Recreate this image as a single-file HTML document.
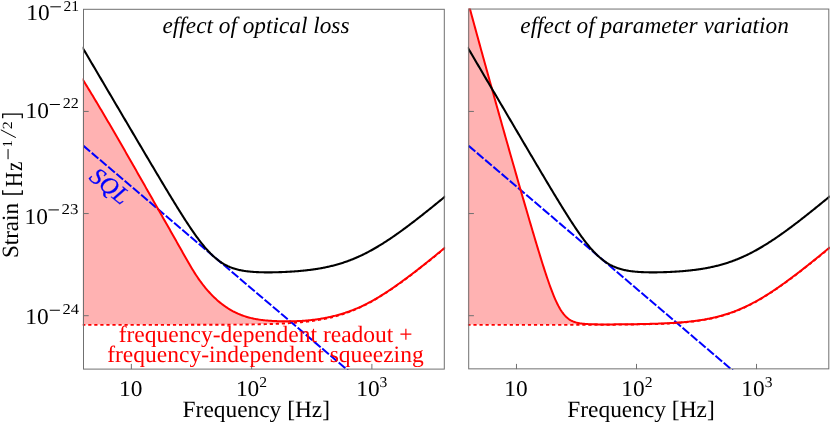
<!DOCTYPE html>
<html><head><meta charset="utf-8"><style>
html,body{margin:0;padding:0;background:#fff;}
svg{display:block;font-family:"Liberation Serif",serif;will-change:transform;text-rendering:geometricPrecision;}
</style></head><body>
<svg width="832" height="422" viewBox="0 0 832 422">
<rect width="832" height="422" fill="#fff"/>
<defs>
<clipPath id="c1"><rect x="82.7" y="8.5" width="362.40000000000003" height="361.40000000000003"/></clipPath>
<clipPath id="c2"><rect x="467.9" y="8.5" width="361.7" height="361.40000000000003"/></clipPath>
</defs>
<g clip-path="url(#c1)">
<path d="M82.18,78.58 L83.04,79.98 L83.91,81.38 L84.78,82.79 L85.65,84.20 L86.51,85.62 L87.38,87.03 L88.25,88.45 L89.12,89.88 L89.98,91.30 L90.85,92.73 L91.72,94.17 L92.59,95.60 L93.45,97.04 L94.32,98.48 L95.19,99.92 L96.05,101.37 L96.92,102.82 L97.79,104.27 L98.66,105.73 L99.52,107.18 L100.39,108.64 L101.26,110.11 L102.13,111.57 L102.99,113.04 L103.86,114.51 L104.73,115.98 L105.60,117.45 L106.46,118.93 L107.33,120.41 L108.20,121.89 L109.06,123.37 L109.93,124.85 L110.80,126.34 L111.67,127.83 L112.53,129.32 L113.40,130.81 L114.27,132.31 L115.14,133.80 L116.00,135.30 L116.87,136.80 L117.74,138.30 L118.61,139.80 L119.47,141.30 L120.34,142.81 L121.21,144.31 L122.07,145.82 L122.94,147.33 L123.81,148.84 L124.68,150.35 L125.54,151.87 L126.41,153.38 L127.28,154.89 L128.15,156.41 L129.01,157.93 L129.88,159.44 L130.75,160.96 L131.62,162.48 L132.48,164.00 L133.35,165.52 L134.22,167.05 L135.08,168.57 L135.95,170.09 L136.82,171.62 L137.69,173.14 L138.55,174.67 L139.42,176.19 L140.29,177.72 L141.16,179.24 L142.02,180.77 L142.89,182.30 L143.76,183.82 L144.63,185.35 L145.49,186.88 L146.36,188.40 L147.23,189.93 L148.09,191.46 L148.96,192.99 L149.83,194.51 L150.70,196.04 L151.56,197.57 L152.43,199.09 L153.30,200.62 L154.17,202.14 L155.03,203.67 L155.90,205.20 L156.77,206.72 L157.64,208.25 L158.50,209.77 L159.37,211.30 L160.24,212.82 L161.10,214.35 L161.97,215.87 L162.84,217.40 L163.71,218.92 L164.57,220.45 L165.44,221.97 L166.31,223.50 L167.18,225.03 L168.04,226.56 L168.91,228.08 L169.78,229.61 L170.65,231.14 L171.51,232.67 L172.38,234.20 L173.25,235.73 L174.11,237.26 L174.98,238.80 L175.85,240.33 L176.72,241.87 L177.58,243.40 L178.45,244.94 L179.32,246.48 L180.19,248.01 L181.05,249.55 L181.92,251.09 L182.79,252.64 L183.66,254.18 L184.52,255.72 L185.39,257.25 L186.26,258.78 L187.12,260.30 L187.99,261.81 L188.86,263.31 L189.73,264.79 L190.59,266.27 L191.46,267.72 L192.33,269.16 L193.20,270.58 L194.06,271.97 L194.93,273.35 L195.80,274.70 L196.67,276.02 L197.53,277.31 L198.40,278.58 L199.27,279.82 L200.13,281.03 L201.00,282.21 L201.87,283.37 L202.74,284.51 L203.60,285.62 L204.47,286.70 L205.34,287.77 L206.21,288.81 L207.07,289.82 L207.94,290.82 L208.81,291.79 L209.68,292.75 L210.54,293.68 L211.41,294.59 L212.28,295.48 L213.14,296.35 L214.01,297.20 L214.88,298.03 L215.75,298.84 L216.61,299.63 L217.48,300.40 L218.35,301.16 L219.22,301.89 L220.08,302.61 L220.95,303.30 L221.82,303.98 L222.69,304.65 L223.55,305.29 L224.42,305.92 L225.29,306.53 L226.15,307.12 L227.02,307.70 L227.89,308.26 L228.76,308.80 L229.62,309.33 L230.49,309.84 L231.36,310.34 L232.23,310.82 L233.09,311.29 L233.96,311.74 L234.83,312.18 L235.70,312.61 L236.56,313.02 L237.43,313.42 L238.30,313.80 L239.16,314.17 L240.03,314.53 L240.90,314.87 L241.77,315.21 L242.63,315.53 L243.50,315.84 L244.37,316.13 L245.24,316.42 L246.10,316.69 L246.97,316.96 L247.84,317.21 L248.71,317.45 L249.57,317.68 L250.44,317.90 L251.31,318.12 L252.17,318.32 L253.04,318.51 L253.91,318.70 L254.78,318.87 L255.64,319.04 L256.51,319.20 L257.38,319.35 L258.25,319.49 L259.11,319.63 L259.98,319.75 L260.85,319.87 L261.72,319.99 L262.58,320.10 L263.45,320.20 L264.32,320.29 L265.18,320.38 L266.05,320.46 L266.92,320.54 L267.79,320.61 L268.65,320.68 L269.52,320.74 L270.39,320.80 L271.26,320.86 L272.12,320.91 L272.99,320.95 L273.86,321.00 L274.73,321.04 L275.59,321.07 L276.46,321.11 L277.33,321.14 L278.19,321.17 L279.06,321.19 L279.93,321.22 L280.80,321.24 L281.66,321.26 L282.53,321.27 L283.40,321.29 L284.27,321.30 L285.13,321.31 L286.00,321.31 L286.87,321.31 L287.74,321.31 L288.60,321.31 L289.47,321.30 L290.34,321.29 L291.20,321.28 L292.07,321.27 L292.94,321.25 L293.81,321.23 L294.67,321.20 L295.54,321.17 L296.41,321.14 L297.28,321.11 L298.14,321.07 L299.01,321.03 L299.88,320.98 L300.75,320.93 L301.61,320.88 L302.48,320.82 L303.35,320.76 L304.21,320.70 L305.08,320.63 L305.95,320.56 L306.82,320.49 L307.68,320.41 L308.55,320.33 L309.42,320.24 L310.29,320.15 L311.15,320.06 L312.02,319.96 L312.89,319.86 L313.76,319.75 L314.62,319.64 L315.49,319.53 L316.36,319.41 L317.22,319.29 L318.09,319.16 L318.96,319.03 L319.83,318.89 L320.69,318.75 L321.56,318.61 L322.43,318.46 L323.30,318.30 L324.16,318.15 L325.03,317.98 L325.90,317.81 L326.77,317.64 L327.63,317.46 L328.50,317.28 L329.37,317.10 L330.23,316.90 L331.10,316.71 L331.97,316.50 L332.84,316.30 L333.70,316.09 L334.57,315.87 L335.44,315.65 L336.31,315.42 L337.17,315.19 L338.04,314.95 L338.91,314.71 L339.78,314.46 L340.64,314.21 L341.51,313.95 L342.38,313.68 L343.24,313.41 L344.11,313.14 L344.98,312.86 L345.85,312.57 L346.71,312.28 L347.58,311.98 L348.45,311.68 L349.32,311.37 L350.18,311.05 L351.05,310.73 L351.92,310.40 L352.79,310.07 L353.65,309.73 L354.52,309.39 L355.39,309.03 L356.25,308.68 L357.12,308.31 L357.99,307.95 L358.86,307.57 L359.72,307.19 L360.59,306.80 L361.46,306.41 L362.33,306.00 L363.19,305.58 L364.06,305.16 L364.93,304.72 L365.80,304.28 L366.66,303.84 L367.53,303.39 L368.40,302.93 L369.26,302.47 L370.13,302.01 L371.00,301.53 L371.87,301.05 L372.73,300.57 L373.60,300.08 L374.47,299.59 L375.34,299.08 L376.20,298.58 L377.07,298.07 L377.94,297.55 L378.81,297.03 L379.67,296.50 L380.54,295.97 L381.41,295.44 L382.27,294.90 L383.14,294.35 L384.01,293.80 L384.88,293.25 L385.74,292.69 L386.61,292.12 L387.48,291.55 L388.35,290.98 L389.21,290.41 L390.08,289.83 L390.95,289.24 L391.82,288.65 L392.68,288.06 L393.55,287.46 L394.42,286.86 L395.28,286.26 L396.15,285.65 L397.02,285.04 L397.89,284.43 L398.75,283.81 L399.62,283.19 L400.49,282.56 L401.36,281.94 L402.22,281.31 L403.09,280.67 L403.96,280.04 L404.83,279.40 L405.69,278.76 L406.56,278.11 L407.43,277.46 L408.29,276.81 L409.16,276.16 L410.03,275.51 L410.90,274.85 L411.76,274.19 L412.63,273.53 L413.50,272.87 L414.37,272.20 L415.23,271.53 L416.10,270.86 L416.97,270.19 L417.84,269.51 L418.70,268.84 L419.57,268.16 L420.44,267.48 L421.30,266.80 L422.17,266.12 L423.04,265.43 L423.91,264.75 L424.77,264.06 L425.64,263.37 L426.51,262.68 L427.38,261.99 L428.24,261.29 L429.11,260.60 L429.98,259.90 L430.85,259.21 L431.71,258.51 L432.58,257.81 L433.45,257.11 L434.31,256.41 L435.18,255.70 L436.05,255.00 L436.92,254.29 L437.78,253.59 L438.65,252.88 L439.52,252.17 L440.39,251.46 L441.25,250.75 L442.12,250.04 L442.99,249.33 L443.86,248.62 L444.72,247.91 L445.59,247.19 L445.59,247.19 L444.72,247.91 L443.86,248.62 L442.99,249.33 L442.12,250.04 L441.25,250.75 L440.39,251.46 L439.52,252.17 L438.65,252.88 L437.78,253.59 L436.92,254.29 L436.05,255.00 L435.18,255.70 L434.31,256.41 L433.45,257.11 L432.58,257.81 L431.71,258.51 L430.85,259.21 L429.98,259.90 L429.11,260.60 L428.24,261.29 L427.38,261.99 L426.51,262.68 L425.64,263.37 L424.77,264.06 L423.91,264.75 L423.04,265.43 L422.17,266.12 L421.30,266.80 L420.44,267.48 L419.57,268.16 L418.70,268.84 L417.84,269.51 L416.97,270.19 L416.10,270.86 L415.23,271.53 L414.37,272.20 L413.50,272.87 L412.63,273.53 L411.76,274.19 L410.90,274.85 L410.03,275.51 L409.16,276.16 L408.29,276.81 L407.43,277.46 L406.56,278.11 L405.69,278.76 L404.83,279.40 L403.96,280.04 L403.09,280.67 L402.22,281.31 L401.36,281.94 L400.49,282.56 L399.62,283.19 L398.75,283.81 L397.89,284.43 L397.02,285.04 L396.15,285.65 L395.28,286.26 L394.42,286.86 L393.55,287.46 L392.68,288.06 L391.82,288.65 L390.95,289.24 L390.08,289.83 L389.21,290.41 L388.35,290.98 L387.48,291.55 L386.61,292.12 L385.74,292.69 L384.88,293.25 L384.01,293.80 L383.14,294.35 L382.27,294.90 L381.41,295.44 L380.54,295.97 L379.67,296.50 L378.81,297.03 L377.94,297.55 L377.07,298.07 L376.20,298.58 L375.34,299.08 L374.47,299.59 L373.60,300.08 L372.73,300.57 L371.87,301.05 L371.00,301.53 L370.13,302.01 L369.26,302.47 L368.40,302.93 L367.53,303.39 L366.66,303.84 L365.80,304.28 L364.93,304.72 L364.06,305.16 L363.19,305.58 L362.33,306.00 L361.46,306.42 L360.59,306.83 L359.72,307.23 L358.86,307.62 L357.99,308.01 L357.12,308.40 L356.25,308.78 L355.39,309.15 L354.52,309.51 L353.65,309.87 L352.79,310.23 L351.92,310.58 L351.05,310.92 L350.18,311.25 L349.32,311.58 L348.45,311.91 L347.58,312.22 L346.71,312.53 L345.85,312.84 L344.98,313.14 L344.11,313.43 L343.24,313.72 L342.38,314.00 L341.51,314.28 L340.64,314.55 L339.78,314.81 L338.91,315.07 L338.04,315.33 L337.17,315.57 L336.31,315.82 L335.44,316.05 L334.57,316.29 L333.70,316.51 L332.84,316.73 L331.97,316.95 L331.10,317.16 L330.23,317.37 L329.37,317.57 L328.50,317.77 L327.63,317.96 L326.77,318.15 L325.90,318.33 L325.03,318.51 L324.16,318.68 L323.30,318.85 L322.43,319.02 L321.56,319.18 L320.69,319.33 L319.83,319.49 L318.96,319.63 L318.09,319.78 L317.22,319.92 L316.36,320.06 L315.49,320.19 L314.62,320.32 L313.76,320.45 L312.89,320.57 L312.02,320.69 L311.15,320.81 L310.29,320.92 L309.42,321.03 L308.55,321.14 L307.68,321.24 L306.82,321.34 L305.95,321.44 L305.08,321.53 L304.21,321.63 L303.35,321.72 L302.48,321.80 L301.61,321.89 L300.75,321.97 L299.88,322.05 L299.01,322.13 L298.14,322.20 L297.28,322.28 L296.41,322.35 L295.54,322.42 L294.67,322.48 L293.81,322.55 L292.94,322.61 L292.07,322.67 L291.20,322.73 L290.34,322.79 L289.47,322.85 L288.60,322.90 L287.74,322.95 L286.87,323.00 L286.00,323.05 L285.13,323.10 L284.27,323.15 L283.40,323.19 L282.53,323.23 L281.66,323.28 L280.80,323.32 L279.93,323.36 L279.06,323.39 L278.19,323.43 L277.33,323.47 L276.46,323.50 L275.59,323.54 L274.73,323.57 L273.86,323.60 L272.99,323.63 L272.12,323.66 L271.26,323.69 L270.39,323.72 L269.52,323.75 L268.65,323.77 L267.79,323.80 L266.92,323.82 L266.05,323.84 L265.18,323.87 L264.32,323.89 L263.45,323.91 L262.58,323.93 L261.72,323.95 L260.85,323.97 L259.98,323.99 L259.11,324.01 L258.25,324.03 L257.38,324.04 L256.51,324.06 L255.64,324.08 L254.78,324.09 L253.91,324.11 L253.04,324.12 L252.17,324.14 L251.31,324.15 L250.44,324.16 L249.57,324.18 L248.71,324.19 L247.84,324.20 L246.97,324.21 L246.10,324.22 L245.24,324.24 L244.37,324.25 L243.50,324.26 L242.63,324.27 L241.77,324.28 L240.90,324.28 L240.03,324.29 L239.16,324.30 L238.30,324.31 L237.43,324.32 L236.56,324.33 L235.70,324.33 L234.83,324.34 L233.96,324.35 L233.09,324.36 L232.23,324.36 L231.36,324.37 L230.49,324.38 L229.62,324.38 L228.76,324.39 L227.89,324.39 L227.02,324.40 L226.15,324.40 L225.29,324.41 L224.42,324.41 L223.55,324.42 L222.69,324.42 L221.82,324.43 L220.95,324.43 L220.08,324.44 L219.22,324.44 L218.35,324.44 L217.48,324.45 L216.61,324.45 L215.75,324.45 L214.88,324.46 L214.01,324.46 L213.14,324.46 L212.28,324.47 L211.41,324.47 L210.54,324.47 L209.68,324.48 L208.81,324.48 L207.94,324.48 L207.07,324.48 L206.21,324.49 L205.34,324.49 L204.47,324.49 L203.60,324.49 L202.74,324.50 L201.87,324.50 L201.00,324.50 L200.13,324.50 L199.27,324.50 L198.40,324.51 L197.53,324.51 L196.67,324.51 L195.80,324.51 L194.93,324.51 L194.06,324.51 L193.20,324.52 L192.33,324.52 L191.46,324.52 L190.59,324.52 L189.73,324.52 L188.86,324.52 L187.99,324.52 L187.12,324.53 L186.26,324.53 L185.39,324.53 L184.52,324.53 L183.66,324.53 L182.79,324.53 L181.92,324.53 L181.05,324.53 L180.19,324.53 L179.32,324.53 L178.45,324.54 L177.58,324.54 L176.72,324.54 L175.85,324.54 L174.98,324.54 L174.11,324.54 L173.25,324.54 L172.38,324.54 L171.51,324.54 L170.65,324.54 L169.78,324.54 L168.91,324.54 L168.04,324.54 L167.18,324.54 L166.31,324.54 L165.44,324.55 L164.57,324.55 L163.71,324.55 L162.84,324.55 L161.97,324.55 L161.10,324.55 L160.24,324.55 L159.37,324.55 L158.50,324.55 L157.64,324.55 L156.77,324.55 L155.90,324.55 L155.03,324.55 L154.17,324.55 L153.30,324.55 L152.43,324.55 L151.56,324.55 L150.70,324.55 L149.83,324.55 L148.96,324.55 L148.09,324.55 L147.23,324.55 L146.36,324.55 L145.49,324.55 L144.63,324.55 L143.76,324.55 L142.89,324.55 L142.02,324.55 L141.16,324.55 L140.29,324.55 L139.42,324.56 L138.55,324.56 L137.69,324.56 L136.82,324.56 L135.95,324.56 L135.08,324.56 L134.22,324.56 L133.35,324.56 L132.48,324.56 L131.62,324.56 L130.75,324.56 L129.88,324.56 L129.01,324.56 L128.15,324.56 L127.28,324.56 L126.41,324.56 L125.54,324.56 L124.68,324.56 L123.81,324.56 L122.94,324.56 L122.07,324.56 L121.21,324.56 L120.34,324.56 L119.47,324.56 L118.61,324.56 L117.74,324.56 L116.87,324.56 L116.00,324.56 L115.14,324.56 L114.27,324.56 L113.40,324.56 L112.53,324.56 L111.67,324.56 L110.80,324.56 L109.93,324.56 L109.06,324.56 L108.20,324.56 L107.33,324.56 L106.46,324.56 L105.60,324.56 L104.73,324.56 L103.86,324.56 L102.99,324.56 L102.13,324.56 L101.26,324.56 L100.39,324.56 L99.52,324.56 L98.66,324.56 L97.79,324.56 L96.92,324.56 L96.05,324.56 L95.19,324.56 L94.32,324.56 L93.45,324.56 L92.59,324.56 L91.72,324.56 L90.85,324.56 L89.98,324.56 L89.12,324.56 L88.25,324.56 L87.38,324.56 L86.51,324.56 L85.65,324.56 L84.78,324.56 L83.91,324.56 L83.04,324.56 L82.18,324.56Z" fill="#ffb2b2"/>
<path d="M82.18,324.56 L83.04,324.56 L83.91,324.56 L84.78,324.56 L85.65,324.56 L86.51,324.56 L87.38,324.56 L88.25,324.56 L89.12,324.56 L89.98,324.56 L90.85,324.56 L91.72,324.56 L92.59,324.56 L93.45,324.56 L94.32,324.56 L95.19,324.56 L96.05,324.56 L96.92,324.56 L97.79,324.56 L98.66,324.56 L99.52,324.56 L100.39,324.56 L101.26,324.56 L102.13,324.56 L102.99,324.56 L103.86,324.56 L104.73,324.56 L105.60,324.56 L106.46,324.56 L107.33,324.56 L108.20,324.56 L109.06,324.56 L109.93,324.56 L110.80,324.56 L111.67,324.56 L112.53,324.56 L113.40,324.56 L114.27,324.56 L115.14,324.56 L116.00,324.56 L116.87,324.56 L117.74,324.56 L118.61,324.56 L119.47,324.56 L120.34,324.56 L121.21,324.56 L122.07,324.56 L122.94,324.56 L123.81,324.56 L124.68,324.56 L125.54,324.56 L126.41,324.56 L127.28,324.56 L128.15,324.56 L129.01,324.56 L129.88,324.56 L130.75,324.56 L131.62,324.56 L132.48,324.56 L133.35,324.56 L134.22,324.56 L135.08,324.56 L135.95,324.56 L136.82,324.56 L137.69,324.56 L138.55,324.56 L139.42,324.56 L140.29,324.55 L141.16,324.55 L142.02,324.55 L142.89,324.55 L143.76,324.55 L144.63,324.55 L145.49,324.55 L146.36,324.55 L147.23,324.55 L148.09,324.55 L148.96,324.55 L149.83,324.55 L150.70,324.55 L151.56,324.55 L152.43,324.55 L153.30,324.55 L154.17,324.55 L155.03,324.55 L155.90,324.55 L156.77,324.55 L157.64,324.55 L158.50,324.55 L159.37,324.55 L160.24,324.55 L161.10,324.55 L161.97,324.55 L162.84,324.55 L163.71,324.55 L164.57,324.55 L165.44,324.55 L166.31,324.54 L167.18,324.54 L168.04,324.54 L168.91,324.54 L169.78,324.54 L170.65,324.54 L171.51,324.54 L172.38,324.54 L173.25,324.54 L174.11,324.54 L174.98,324.54 L175.85,324.54 L176.72,324.54 L177.58,324.54 L178.45,324.54 L179.32,324.53 L180.19,324.53 L181.05,324.53 L181.92,324.53 L182.79,324.53 L183.66,324.53 L184.52,324.53 L185.39,324.53 L186.26,324.53 L187.12,324.53 L187.99,324.52 L188.86,324.52 L189.73,324.52 L190.59,324.52 L191.46,324.52 L192.33,324.52 L193.20,324.52 L194.06,324.51 L194.93,324.51 L195.80,324.51 L196.67,324.51 L197.53,324.51 L198.40,324.51 L199.27,324.50 L200.13,324.50 L201.00,324.50 L201.87,324.50 L202.74,324.50 L203.60,324.49 L204.47,324.49 L205.34,324.49 L206.21,324.49 L207.07,324.48 L207.94,324.48 L208.81,324.48 L209.68,324.48 L210.54,324.47 L211.41,324.47 L212.28,324.47 L213.14,324.46 L214.01,324.46 L214.88,324.46 L215.75,324.45 L216.61,324.45 L217.48,324.45 L218.35,324.44 L219.22,324.44 L220.08,324.44 L220.95,324.43 L221.82,324.43 L222.69,324.42 L223.55,324.42 L224.42,324.41 L225.29,324.41 L226.15,324.40 L227.02,324.40 L227.89,324.39 L228.76,324.39 L229.62,324.38 L230.49,324.38 L231.36,324.37 L232.23,324.36 L233.09,324.36 L233.96,324.35 L234.83,324.34 L235.70,324.33 L236.56,324.33 L237.43,324.32 L238.30,324.31 L239.16,324.30 L240.03,324.29 L240.90,324.28 L241.77,324.28 L242.63,324.27 L243.50,324.26 L244.37,324.25 L245.24,324.24 L246.10,324.22 L246.97,324.21 L247.84,324.20 L248.71,324.19 L249.57,324.18 L250.44,324.16 L251.31,324.15 L252.17,324.14 L253.04,324.12 L253.91,324.11 L254.78,324.09 L255.64,324.08 L256.51,324.06 L257.38,324.04 L258.25,324.03 L259.11,324.01 L259.98,323.99 L260.85,323.97 L261.72,323.95 L262.58,323.93 L263.45,323.91 L264.32,323.89 L265.18,323.87 L266.05,323.84 L266.92,323.82 L267.79,323.80 L268.65,323.77 L269.52,323.75 L270.39,323.72 L271.26,323.69 L272.12,323.66 L272.99,323.63 L273.86,323.60 L274.73,323.57 L275.59,323.54 L276.46,323.50 L277.33,323.47 L278.19,323.43 L279.06,323.39 L279.93,323.36 L280.80,323.32 L281.66,323.28 L282.53,323.23 L283.40,323.19 L284.27,323.15 L285.13,323.10 L286.00,323.05 L286.87,323.00 L287.74,322.95 L288.60,322.90 L289.47,322.85 L290.34,322.79 L291.20,322.73 L292.07,322.67 L292.94,322.61 L293.81,322.55 L294.67,322.48 L295.54,322.42 L296.41,322.35 L297.28,322.28 L298.14,322.20 L299.01,322.13 L299.88,322.05 L300.75,321.97 L301.61,321.89 L302.48,321.80 L303.35,321.72 L304.21,321.63 L305.08,321.53 L305.95,321.44 L306.82,321.34 L307.68,321.24 L308.55,321.14 L309.42,321.03 L310.29,320.92 L311.15,320.81 L312.02,320.69 L312.89,320.57 L313.76,320.45 L314.62,320.32 L315.49,320.19 L316.36,320.06 L317.22,319.92 L318.09,319.78 L318.96,319.63 L319.83,319.49 L320.69,319.33 L321.56,319.18 L322.43,319.02 L323.30,318.85 L324.16,318.68 L325.03,318.51 L325.90,318.33 L326.77,318.15 L327.63,317.96 L328.50,317.77 L329.37,317.57 L330.23,317.37 L331.10,317.16 L331.97,316.95 L332.84,316.73 L333.70,316.51 L334.57,316.29 L335.44,316.05 L336.31,315.82 L337.17,315.57 L338.04,315.33 L338.91,315.07 L339.78,314.81 L340.64,314.55 L341.51,314.28 L342.38,314.00 L343.24,313.72 L344.11,313.43 L344.98,313.14 L345.85,312.84 L346.71,312.53 L347.58,312.22 L348.45,311.91 L349.32,311.58 L350.18,311.25 L351.05,310.92 L351.92,310.58 L352.79,310.23 L353.65,309.87 L354.52,309.51 L355.39,309.15 L356.25,308.78 L357.12,308.40 L357.99,308.01 L358.86,307.62 L359.72,307.23 L360.59,306.83 L361.46,306.42 L362.33,306.00 L363.19,305.58 L364.06,305.16 L364.93,304.72 L365.80,304.28 L366.66,303.84 L367.53,303.39 L368.40,302.93 L369.26,302.47 L370.13,302.01 L371.00,301.53 L371.87,301.05 L372.73,300.57 L373.60,300.08 L374.47,299.59 L375.34,299.08 L376.20,298.58 L377.07,298.07 L377.94,297.55 L378.81,297.03 L379.67,296.50 L380.54,295.97 L381.41,295.44 L382.27,294.90 L383.14,294.35 L384.01,293.80 L384.88,293.25 L385.74,292.69 L386.61,292.12 L387.48,291.55 L388.35,290.98 L389.21,290.41 L390.08,289.83 L390.95,289.24 L391.82,288.65 L392.68,288.06 L393.55,287.46 L394.42,286.86 L395.28,286.26 L396.15,285.65 L397.02,285.04 L397.89,284.43 L398.75,283.81 L399.62,283.19 L400.49,282.56 L401.36,281.94 L402.22,281.31 L403.09,280.67 L403.96,280.04 L404.83,279.40 L405.69,278.76 L406.56,278.11 L407.43,277.46 L408.29,276.81 L409.16,276.16 L410.03,275.51 L410.90,274.85 L411.76,274.19 L412.63,273.53 L413.50,272.87 L414.37,272.20 L415.23,271.53 L416.10,270.86 L416.97,270.19 L417.84,269.51 L418.70,268.84 L419.57,268.16 L420.44,267.48 L421.30,266.80 L422.17,266.12 L423.04,265.43 L423.91,264.75 L424.77,264.06 L425.64,263.37 L426.51,262.68 L427.38,261.99 L428.24,261.29 L429.11,260.60 L429.98,259.90 L430.85,259.21 L431.71,258.51 L432.58,257.81 L433.45,257.11 L434.31,256.41 L435.18,255.70 L436.05,255.00 L436.92,254.29 L437.78,253.59 L438.65,252.88 L439.52,252.17 L440.39,251.46 L441.25,250.75 L442.12,250.04 L442.99,249.33 L443.86,248.62 L444.72,247.91 L445.59,247.19" transform="translate(0,0.3)" stroke="#f00" stroke-width="1.9" stroke-dasharray="3.2 2.85" fill="none"/>
<path d="M83.50,145.88 L90.89,152.15 L98.28,158.43 L105.67,164.70 L113.06,170.98 L120.45,177.25 L127.84,183.53 L135.23,189.80 L142.62,196.08 L150.01,202.35 L157.40,208.63 L164.79,214.90 L172.18,221.18 L179.56,227.46 L186.95,233.73 L194.34,240.01 L201.73,246.28 L209.12,252.56 L216.51,258.83 L223.90,265.11 L231.29,271.38 L238.68,277.66 L246.07,283.93 L253.46,290.21 L260.85,296.48 L268.24,302.76 L275.63,309.03 L283.02,315.31 L290.41,321.59 L297.80,327.86 L305.19,334.14 L312.58,340.41 L319.97,346.69 L327.36,352.96 L334.75,359.24 L342.14,365.51 L349.53,371.79 L356.91,378.06 L364.30,384.34 L371.69,390.61 L379.08,396.89 L386.47,403.17 L393.86,409.44 L401.25,415.72 L408.64,421.99 L416.03,428.27 L423.42,434.54 L430.81,440.82 L438.20,447.09 L445.59,453.37" stroke="#0000ff" stroke-width="2" stroke-dasharray="8.7 2.1" fill="none"/>
<path d="M82.18,78.58 L83.04,79.98 L83.91,81.38 L84.78,82.79 L85.65,84.20 L86.51,85.62 L87.38,87.03 L88.25,88.45 L89.12,89.88 L89.98,91.30 L90.85,92.73 L91.72,94.17 L92.59,95.60 L93.45,97.04 L94.32,98.48 L95.19,99.92 L96.05,101.37 L96.92,102.82 L97.79,104.27 L98.66,105.73 L99.52,107.18 L100.39,108.64 L101.26,110.11 L102.13,111.57 L102.99,113.04 L103.86,114.51 L104.73,115.98 L105.60,117.45 L106.46,118.93 L107.33,120.41 L108.20,121.89 L109.06,123.37 L109.93,124.85 L110.80,126.34 L111.67,127.83 L112.53,129.32 L113.40,130.81 L114.27,132.31 L115.14,133.80 L116.00,135.30 L116.87,136.80 L117.74,138.30 L118.61,139.80 L119.47,141.30 L120.34,142.81 L121.21,144.31 L122.07,145.82 L122.94,147.33 L123.81,148.84 L124.68,150.35 L125.54,151.87 L126.41,153.38 L127.28,154.89 L128.15,156.41 L129.01,157.93 L129.88,159.44 L130.75,160.96 L131.62,162.48 L132.48,164.00 L133.35,165.52 L134.22,167.05 L135.08,168.57 L135.95,170.09 L136.82,171.62 L137.69,173.14 L138.55,174.67 L139.42,176.19 L140.29,177.72 L141.16,179.24 L142.02,180.77 L142.89,182.30 L143.76,183.82 L144.63,185.35 L145.49,186.88 L146.36,188.40 L147.23,189.93 L148.09,191.46 L148.96,192.99 L149.83,194.51 L150.70,196.04 L151.56,197.57 L152.43,199.09 L153.30,200.62 L154.17,202.14 L155.03,203.67 L155.90,205.20 L156.77,206.72 L157.64,208.25 L158.50,209.77 L159.37,211.30 L160.24,212.82 L161.10,214.35 L161.97,215.87 L162.84,217.40 L163.71,218.92 L164.57,220.45 L165.44,221.97 L166.31,223.50 L167.18,225.03 L168.04,226.56 L168.91,228.08 L169.78,229.61 L170.65,231.14 L171.51,232.67 L172.38,234.20 L173.25,235.73 L174.11,237.26 L174.98,238.80 L175.85,240.33 L176.72,241.87 L177.58,243.40 L178.45,244.94 L179.32,246.48 L180.19,248.01 L181.05,249.55 L181.92,251.09 L182.79,252.64 L183.66,254.18 L184.52,255.72 L185.39,257.25 L186.26,258.78 L187.12,260.30 L187.99,261.81 L188.86,263.31 L189.73,264.79 L190.59,266.27 L191.46,267.72 L192.33,269.16 L193.20,270.58 L194.06,271.97 L194.93,273.35 L195.80,274.70 L196.67,276.02 L197.53,277.31 L198.40,278.58 L199.27,279.82 L200.13,281.03 L201.00,282.21 L201.87,283.37 L202.74,284.51 L203.60,285.62 L204.47,286.70 L205.34,287.77 L206.21,288.81 L207.07,289.82 L207.94,290.82 L208.81,291.79 L209.68,292.75 L210.54,293.68 L211.41,294.59 L212.28,295.48 L213.14,296.35 L214.01,297.20 L214.88,298.03 L215.75,298.84 L216.61,299.63 L217.48,300.40 L218.35,301.16 L219.22,301.89 L220.08,302.61 L220.95,303.30 L221.82,303.98 L222.69,304.65 L223.55,305.29 L224.42,305.92 L225.29,306.53 L226.15,307.12 L227.02,307.70 L227.89,308.26 L228.76,308.80 L229.62,309.33 L230.49,309.84 L231.36,310.34 L232.23,310.82 L233.09,311.29 L233.96,311.74 L234.83,312.18 L235.70,312.61 L236.56,313.02 L237.43,313.42 L238.30,313.80 L239.16,314.17 L240.03,314.53 L240.90,314.87 L241.77,315.21 L242.63,315.53 L243.50,315.84 L244.37,316.13 L245.24,316.42 L246.10,316.69 L246.97,316.96 L247.84,317.21 L248.71,317.45 L249.57,317.68 L250.44,317.90 L251.31,318.12 L252.17,318.32 L253.04,318.51 L253.91,318.70 L254.78,318.87 L255.64,319.04 L256.51,319.20 L257.38,319.35 L258.25,319.49 L259.11,319.63 L259.98,319.75 L260.85,319.87 L261.72,319.99 L262.58,320.10 L263.45,320.20 L264.32,320.29 L265.18,320.38 L266.05,320.46 L266.92,320.54 L267.79,320.61 L268.65,320.68 L269.52,320.74 L270.39,320.80 L271.26,320.86 L272.12,320.91 L272.99,320.95 L273.86,321.00 L274.73,321.04 L275.59,321.07 L276.46,321.11 L277.33,321.14 L278.19,321.17 L279.06,321.19 L279.93,321.22 L280.80,321.24 L281.66,321.26 L282.53,321.27 L283.40,321.29 L284.27,321.30 L285.13,321.31 L286.00,321.31 L286.87,321.31 L287.74,321.31 L288.60,321.31 L289.47,321.30 L290.34,321.29 L291.20,321.28 L292.07,321.27 L292.94,321.25 L293.81,321.23 L294.67,321.20 L295.54,321.17 L296.41,321.14 L297.28,321.11 L298.14,321.07 L299.01,321.03 L299.88,320.98 L300.75,320.93 L301.61,320.88 L302.48,320.82 L303.35,320.76 L304.21,320.70 L305.08,320.63 L305.95,320.56 L306.82,320.49 L307.68,320.41 L308.55,320.33 L309.42,320.24 L310.29,320.15 L311.15,320.06 L312.02,319.96 L312.89,319.86 L313.76,319.75 L314.62,319.64 L315.49,319.53 L316.36,319.41 L317.22,319.29 L318.09,319.16 L318.96,319.03 L319.83,318.89 L320.69,318.75 L321.56,318.61 L322.43,318.46 L323.30,318.30 L324.16,318.15 L325.03,317.98 L325.90,317.81 L326.77,317.64 L327.63,317.46 L328.50,317.28 L329.37,317.10 L330.23,316.90 L331.10,316.71 L331.97,316.50 L332.84,316.30 L333.70,316.09 L334.57,315.87 L335.44,315.65 L336.31,315.42 L337.17,315.19 L338.04,314.95 L338.91,314.71 L339.78,314.46 L340.64,314.21 L341.51,313.95 L342.38,313.68 L343.24,313.41 L344.11,313.14 L344.98,312.86 L345.85,312.57 L346.71,312.28 L347.58,311.98 L348.45,311.68 L349.32,311.37 L350.18,311.05 L351.05,310.73 L351.92,310.40 L352.79,310.07 L353.65,309.73 L354.52,309.39 L355.39,309.03 L356.25,308.68 L357.12,308.31 L357.99,307.95 L358.86,307.57 L359.72,307.19 L360.59,306.80 L361.46,306.41 L362.33,306.00 L363.19,305.58 L364.06,305.16 L364.93,304.72 L365.80,304.28 L366.66,303.84 L367.53,303.39 L368.40,302.93 L369.26,302.47 L370.13,302.01 L371.00,301.53 L371.87,301.05 L372.73,300.57 L373.60,300.08 L374.47,299.59 L375.34,299.08 L376.20,298.58 L377.07,298.07 L377.94,297.55 L378.81,297.03 L379.67,296.50 L380.54,295.97 L381.41,295.44 L382.27,294.90 L383.14,294.35 L384.01,293.80 L384.88,293.25 L385.74,292.69 L386.61,292.12 L387.48,291.55 L388.35,290.98 L389.21,290.41 L390.08,289.83 L390.95,289.24 L391.82,288.65 L392.68,288.06 L393.55,287.46 L394.42,286.86 L395.28,286.26 L396.15,285.65 L397.02,285.04 L397.89,284.43 L398.75,283.81 L399.62,283.19 L400.49,282.56 L401.36,281.94 L402.22,281.31 L403.09,280.67 L403.96,280.04 L404.83,279.40 L405.69,278.76 L406.56,278.11 L407.43,277.46 L408.29,276.81 L409.16,276.16 L410.03,275.51 L410.90,274.85 L411.76,274.19 L412.63,273.53 L413.50,272.87 L414.37,272.20 L415.23,271.53 L416.10,270.86 L416.97,270.19 L417.84,269.51 L418.70,268.84 L419.57,268.16 L420.44,267.48 L421.30,266.80 L422.17,266.12 L423.04,265.43 L423.91,264.75 L424.77,264.06 L425.64,263.37 L426.51,262.68 L427.38,261.99 L428.24,261.29 L429.11,260.60 L429.98,259.90 L430.85,259.21 L431.71,258.51 L432.58,257.81 L433.45,257.11 L434.31,256.41 L435.18,255.70 L436.05,255.00 L436.92,254.29 L437.78,253.59 L438.65,252.88 L439.52,252.17 L440.39,251.46 L441.25,250.75 L442.12,250.04 L442.99,249.33 L443.86,248.62 L444.72,247.91 L445.59,247.19" stroke="#f00" stroke-width="2" fill="none"/>
<path d="M82.18,46.97 L83.04,48.44 L83.91,49.91 L84.78,51.39 L85.65,52.86 L86.51,54.33 L87.38,55.81 L88.25,57.28 L89.12,58.75 L89.98,60.23 L90.85,61.70 L91.72,63.17 L92.59,64.65 L93.45,66.12 L94.32,67.59 L95.19,69.06 L96.05,70.54 L96.92,72.01 L97.79,73.48 L98.66,74.96 L99.52,76.43 L100.39,77.90 L101.26,79.38 L102.13,80.85 L102.99,82.32 L103.86,83.79 L104.73,85.27 L105.60,86.74 L106.46,88.21 L107.33,89.69 L108.20,91.16 L109.06,92.63 L109.93,94.10 L110.80,95.58 L111.67,97.05 L112.53,98.52 L113.40,99.99 L114.27,101.47 L115.14,102.94 L116.00,104.41 L116.87,105.88 L117.74,107.36 L118.61,108.83 L119.47,110.30 L120.34,111.77 L121.21,113.25 L122.07,114.72 L122.94,116.19 L123.81,117.66 L124.68,119.13 L125.54,120.60 L126.41,122.08 L127.28,123.55 L128.15,125.02 L129.01,126.49 L129.88,127.96 L130.75,129.43 L131.62,130.90 L132.48,132.38 L133.35,133.85 L134.22,135.32 L135.08,136.79 L135.95,138.26 L136.82,139.73 L137.69,141.20 L138.55,142.67 L139.42,144.13 L140.29,145.60 L141.16,147.07 L142.02,148.54 L142.89,150.01 L143.76,151.48 L144.63,152.94 L145.49,154.41 L146.36,155.88 L147.23,157.34 L148.09,158.81 L148.96,160.27 L149.83,161.74 L150.70,163.20 L151.56,164.66 L152.43,166.12 L153.30,167.59 L154.17,169.05 L155.03,170.51 L155.90,171.96 L156.77,173.42 L157.64,174.88 L158.50,176.33 L159.37,177.79 L160.24,179.24 L161.10,180.69 L161.97,182.14 L162.84,183.59 L163.71,185.04 L164.57,186.49 L165.44,187.93 L166.31,189.37 L167.18,190.81 L168.04,192.25 L168.91,193.68 L169.78,195.11 L170.65,196.54 L171.51,197.97 L172.38,199.39 L173.25,200.81 L174.11,202.23 L174.98,203.64 L175.85,205.05 L176.72,206.45 L177.58,207.85 L178.45,209.25 L179.32,210.64 L180.19,212.02 L181.05,213.40 L181.92,214.77 L182.79,216.14 L183.66,217.50 L184.52,218.85 L185.39,220.20 L186.26,221.53 L187.12,222.86 L187.99,224.18 L188.86,225.49 L189.73,226.79 L190.59,228.08 L191.46,229.36 L192.33,230.62 L193.20,231.88 L194.06,233.12 L194.93,234.35 L195.80,235.56 L196.67,236.76 L197.53,237.95 L198.40,239.11 L199.27,240.27 L200.13,241.40 L201.00,242.52 L201.87,243.62 L202.74,244.70 L203.60,245.76 L204.47,246.80 L205.34,247.82 L206.21,248.82 L207.07,249.80 L207.94,250.75 L208.81,251.69 L209.68,252.59 L210.54,253.48 L211.41,254.34 L212.28,255.18 L213.14,255.99 L214.01,256.78 L214.88,257.55 L215.75,258.29 L216.61,259.00 L217.48,259.69 L218.35,260.36 L219.22,261.00 L220.08,261.62 L220.95,262.21 L221.82,262.78 L222.69,263.33 L223.55,263.85 L224.42,264.35 L225.29,264.83 L226.15,265.29 L227.02,265.72 L227.89,266.14 L228.76,266.53 L229.62,266.91 L230.49,267.27 L231.36,267.61 L232.23,267.93 L233.09,268.23 L233.96,268.52 L234.83,268.79 L235.70,269.05 L236.56,269.29 L237.43,269.52 L238.30,269.74 L239.16,269.94 L240.03,270.13 L240.90,270.31 L241.77,270.48 L242.63,270.64 L243.50,270.79 L244.37,270.93 L245.24,271.06 L246.10,271.18 L246.97,271.29 L247.84,271.39 L248.71,271.49 L249.57,271.58 L250.44,271.67 L251.31,271.74 L252.17,271.82 L253.04,271.88 L253.91,271.94 L254.78,272.00 L255.64,272.05 L256.51,272.09 L257.38,272.13 L258.25,272.17 L259.11,272.21 L259.98,272.23 L260.85,272.26 L261.72,272.28 L262.58,272.30 L263.45,272.32 L264.32,272.33 L265.18,272.34 L266.05,272.35 L266.92,272.35 L267.79,272.35 L268.65,272.35 L269.52,272.35 L270.39,272.35 L271.26,272.34 L272.12,272.33 L272.99,272.32 L273.86,272.30 L274.73,272.29 L275.59,272.27 L276.46,272.25 L277.33,272.23 L278.19,272.20 L279.06,272.17 L279.93,272.15 L280.80,272.12 L281.66,272.09 L282.53,272.05 L283.40,272.02 L284.27,271.98 L285.13,271.94 L286.00,271.90 L286.87,271.85 L287.74,271.81 L288.60,271.76 L289.47,271.71 L290.34,271.66 L291.20,271.61 L292.07,271.55 L292.94,271.50 L293.81,271.44 L294.67,271.38 L295.54,271.31 L296.41,271.25 L297.28,271.18 L298.14,271.11 L299.01,271.03 L299.88,270.96 L300.75,270.88 L301.61,270.80 L302.48,270.72 L303.35,270.63 L304.21,270.54 L305.08,270.45 L305.95,270.36 L306.82,270.26 L307.68,270.16 L308.55,270.06 L309.42,269.95 L310.29,269.84 L311.15,269.73 L312.02,269.61 L312.89,269.49 L313.76,269.37 L314.62,269.25 L315.49,269.12 L316.36,268.98 L317.22,268.85 L318.09,268.71 L318.96,268.56 L319.83,268.41 L320.69,268.26 L321.56,268.11 L322.43,267.95 L323.30,267.78 L324.16,267.61 L325.03,267.44 L325.90,267.26 L326.77,267.08 L327.63,266.89 L328.50,266.70 L329.37,266.50 L330.23,266.30 L331.10,266.09 L331.97,265.88 L332.84,265.67 L333.70,265.45 L334.57,265.22 L335.44,264.99 L336.31,264.75 L337.17,264.51 L338.04,264.26 L338.91,264.01 L339.78,263.75 L340.64,263.48 L341.51,263.21 L342.38,262.93 L343.24,262.65 L344.11,262.37 L344.98,262.07 L345.85,261.77 L346.71,261.47 L347.58,261.16 L348.45,260.84 L349.32,260.52 L350.18,260.19 L351.05,259.85 L351.92,259.51 L352.79,259.16 L353.65,258.81 L354.52,258.45 L355.39,258.08 L356.25,257.71 L357.12,257.33 L357.99,256.95 L358.86,256.56 L359.72,256.16 L360.59,255.76 L361.46,255.35 L362.33,254.94 L363.19,254.52 L364.06,254.09 L364.93,253.66 L365.80,253.22 L366.66,252.77 L367.53,252.32 L368.40,251.87 L369.26,251.41 L370.13,250.94 L371.00,250.47 L371.87,249.99 L372.73,249.50 L373.60,249.01 L374.47,248.52 L375.34,248.02 L376.20,247.51 L377.07,247.00 L377.94,246.49 L378.81,245.96 L379.67,245.44 L380.54,244.91 L381.41,244.37 L382.27,243.83 L383.14,243.28 L384.01,242.73 L384.88,242.18 L385.74,241.62 L386.61,241.06 L387.48,240.49 L388.35,239.92 L389.21,239.34 L390.08,238.76 L390.95,238.17 L391.82,237.59 L392.68,236.99 L393.55,236.40 L394.42,235.80 L395.28,235.19 L396.15,234.59 L397.02,233.97 L397.89,233.36 L398.75,232.74 L399.62,232.12 L400.49,231.50 L401.36,230.87 L402.22,230.24 L403.09,229.61 L403.96,228.97 L404.83,228.33 L405.69,227.69 L406.56,227.05 L407.43,226.40 L408.29,225.75 L409.16,225.10 L410.03,224.44 L410.90,223.78 L411.76,223.12 L412.63,222.46 L413.50,221.80 L414.37,221.13 L415.23,220.47 L416.10,219.79 L416.97,219.12 L417.84,218.45 L418.70,217.77 L419.57,217.10 L420.44,216.42 L421.30,215.73 L422.17,215.05 L423.04,214.37 L423.91,213.68 L424.77,212.99 L425.64,212.30 L426.51,211.61 L427.38,210.92 L428.24,210.23 L429.11,209.53 L429.98,208.84 L430.85,208.14 L431.71,207.44 L432.58,206.74 L433.45,206.04 L434.31,205.34 L435.18,204.64 L436.05,203.93 L436.92,203.23 L437.78,202.52 L438.65,201.81 L439.52,201.11 L440.39,200.40 L441.25,199.69 L442.12,198.98 L442.99,198.27 L443.86,197.55 L444.72,196.84 L445.59,196.13" stroke="#000" stroke-width="2.1" fill="none"/>
</g>
<g clip-path="url(#c2)">
<path d="M467.38,-0.43 L468.25,2.75 L469.11,5.93 L469.98,9.11 L470.84,12.29 L471.71,15.46 L472.57,18.63 L473.44,21.80 L474.31,24.96 L475.17,28.12 L476.04,31.28 L476.90,34.44 L477.77,37.59 L478.63,40.74 L479.50,43.88 L480.36,47.03 L481.23,50.17 L482.10,53.31 L482.96,56.44 L483.83,59.57 L484.69,62.70 L485.56,65.83 L486.42,68.95 L487.29,72.07 L488.16,75.19 L489.02,78.30 L489.89,81.41 L490.75,84.52 L491.62,87.63 L492.48,90.73 L493.35,93.83 L494.22,96.93 L495.08,100.02 L495.95,103.11 L496.81,106.20 L497.68,109.28 L498.54,112.37 L499.41,115.44 L500.27,118.52 L501.14,121.59 L502.01,124.66 L502.87,127.73 L503.74,130.80 L504.60,133.86 L505.47,136.92 L506.33,139.97 L507.20,143.02 L508.07,146.07 L508.93,149.12 L509.80,152.16 L510.66,155.20 L511.53,158.24 L512.39,161.27 L513.26,164.30 L514.13,167.33 L514.99,170.35 L515.86,173.38 L516.72,176.39 L517.59,179.41 L518.45,182.42 L519.32,185.42 L520.18,188.43 L521.05,191.43 L521.92,194.42 L522.78,197.41 L523.65,200.40 L524.51,203.38 L525.38,206.36 L526.24,209.34 L527.11,212.30 L527.98,215.27 L528.84,218.22 L529.71,221.17 L530.57,224.12 L531.44,227.06 L532.30,229.99 L533.17,232.91 L534.04,235.82 L534.90,238.72 L535.77,241.61 L536.63,244.49 L537.50,247.36 L538.36,250.21 L539.23,253.04 L540.09,255.86 L540.96,258.66 L541.83,261.43 L542.69,264.19 L543.56,266.91 L544.42,269.61 L545.29,272.27 L546.15,274.90 L547.02,277.49 L547.89,280.03 L548.75,282.53 L549.62,284.98 L550.48,287.37 L551.35,289.70 L552.21,291.97 L553.08,294.16 L553.95,296.29 L554.81,298.33 L555.68,300.30 L556.54,302.17 L557.41,303.96 L558.27,305.66 L559.14,307.26 L560.00,308.77 L560.87,310.18 L561.74,311.50 L562.60,312.73 L563.47,313.87 L564.33,314.92 L565.20,315.88 L566.06,316.76 L566.93,317.57 L567.80,318.30 L568.66,318.96 L569.53,319.56 L570.39,320.10 L571.26,320.59 L572.12,321.03 L572.99,321.42 L573.86,321.76 L574.72,322.08 L575.59,322.35 L576.45,322.60 L577.32,322.82 L578.18,323.01 L579.05,323.19 L579.91,323.34 L580.78,323.47 L581.65,323.59 L582.51,323.70 L583.38,323.79 L584.24,323.87 L585.11,323.94 L585.97,324.01 L586.84,324.06 L587.71,324.11 L588.57,324.15 L589.44,324.19 L590.30,324.22 L591.17,324.25 L592.03,324.28 L592.90,324.30 L593.76,324.32 L594.63,324.33 L595.50,324.35 L596.36,324.36 L597.23,324.37 L598.09,324.38 L598.96,324.39 L599.82,324.39 L600.69,324.40 L601.56,324.40 L602.42,324.40 L603.29,324.40 L604.15,324.40 L605.02,324.40 L605.88,324.40 L606.75,324.40 L607.62,324.40 L608.48,324.40 L609.35,324.40 L610.21,324.39 L611.08,324.39 L611.94,324.39 L612.81,324.38 L613.67,324.38 L614.54,324.37 L615.41,324.37 L616.27,324.36 L617.14,324.36 L618.00,324.35 L618.87,324.34 L619.73,324.34 L620.60,324.33 L621.47,324.32 L622.33,324.32 L623.20,324.31 L624.06,324.30 L624.93,324.29 L625.79,324.28 L626.66,324.27 L627.53,324.26 L628.39,324.25 L629.26,324.24 L630.12,324.23 L630.99,324.22 L631.85,324.21 L632.72,324.20 L633.58,324.19 L634.45,324.18 L635.32,324.16 L636.18,324.15 L637.05,324.14 L637.91,324.12 L638.78,324.11 L639.64,324.09 L640.51,324.08 L641.38,324.06 L642.24,324.04 L643.11,324.03 L643.97,324.01 L644.84,323.99 L645.70,323.97 L646.57,323.95 L647.44,323.93 L648.30,323.91 L649.17,323.89 L650.03,323.87 L650.90,323.84 L651.76,323.82 L652.63,323.80 L653.49,323.77 L654.36,323.74 L655.23,323.72 L656.09,323.69 L656.96,323.66 L657.82,323.63 L658.69,323.60 L659.55,323.57 L660.42,323.54 L661.29,323.50 L662.15,323.47 L663.02,323.43 L663.88,323.39 L664.75,323.36 L665.61,323.32 L666.48,323.28 L667.35,323.23 L668.21,323.19 L669.08,323.15 L669.94,323.10 L670.81,323.05 L671.67,323.00 L672.54,322.95 L673.40,322.90 L674.27,322.85 L675.14,322.79 L676.00,322.73 L676.87,322.67 L677.73,322.61 L678.60,322.55 L679.46,322.48 L680.33,322.42 L681.20,322.35 L682.06,322.28 L682.93,322.20 L683.79,322.13 L684.66,322.05 L685.52,321.97 L686.39,321.89 L687.26,321.80 L688.12,321.72 L688.99,321.63 L689.85,321.53 L690.72,321.44 L691.58,321.34 L692.45,321.24 L693.31,321.14 L694.18,321.03 L695.05,320.92 L695.91,320.81 L696.78,320.69 L697.64,320.57 L698.51,320.45 L699.37,320.32 L700.24,320.19 L701.11,320.06 L701.97,319.92 L702.84,319.78 L703.70,319.63 L704.57,319.49 L705.43,319.33 L706.30,319.18 L707.17,319.02 L708.03,318.85 L708.90,318.68 L709.76,318.51 L710.63,318.33 L711.49,318.15 L712.36,317.96 L713.22,317.77 L714.09,317.57 L714.96,317.37 L715.82,317.16 L716.69,316.95 L717.55,316.73 L718.42,316.51 L719.28,316.29 L720.15,316.05 L721.02,315.82 L721.88,315.57 L722.75,315.33 L723.61,315.07 L724.48,314.81 L725.34,314.55 L726.21,314.28 L727.07,314.00 L727.94,313.72 L728.81,313.43 L729.67,313.14 L730.54,312.84 L731.40,312.53 L732.27,312.22 L733.13,311.91 L734.00,311.58 L734.87,311.25 L735.73,310.92 L736.60,310.58 L737.46,310.23 L738.33,309.87 L739.19,309.51 L740.06,309.15 L740.93,308.78 L741.79,308.40 L742.66,308.01 L743.52,307.62 L744.39,307.23 L745.25,306.83 L746.12,306.42 L746.98,306.00 L747.85,305.58 L748.72,305.16 L749.58,304.72 L750.45,304.28 L751.31,303.84 L752.18,303.39 L753.04,302.93 L753.91,302.47 L754.78,302.01 L755.64,301.53 L756.51,301.05 L757.37,300.57 L758.24,300.08 L759.10,299.59 L759.97,299.08 L760.84,298.58 L761.70,298.07 L762.57,297.55 L763.43,297.03 L764.30,296.50 L765.16,295.97 L766.03,295.44 L766.89,294.90 L767.76,294.35 L768.63,293.80 L769.49,293.25 L770.36,292.69 L771.22,292.12 L772.09,291.55 L772.95,290.98 L773.82,290.41 L774.69,289.83 L775.55,289.24 L776.42,288.65 L777.28,288.06 L778.15,287.46 L779.01,286.86 L779.88,286.26 L780.75,285.65 L781.61,285.04 L782.48,284.43 L783.34,283.81 L784.21,283.19 L785.07,282.56 L785.94,281.94 L786.80,281.31 L787.67,280.67 L788.54,280.04 L789.40,279.40 L790.27,278.76 L791.13,278.11 L792.00,277.46 L792.86,276.81 L793.73,276.16 L794.60,275.51 L795.46,274.85 L796.33,274.19 L797.19,273.53 L798.06,272.87 L798.92,272.20 L799.79,271.53 L800.66,270.86 L801.52,270.19 L802.39,269.51 L803.25,268.84 L804.12,268.16 L804.98,267.48 L805.85,266.80 L806.71,266.12 L807.58,265.43 L808.45,264.75 L809.31,264.06 L810.18,263.37 L811.04,262.68 L811.91,261.99 L812.77,261.29 L813.64,260.60 L814.51,259.90 L815.37,259.21 L816.24,258.51 L817.10,257.81 L817.97,257.11 L818.83,256.41 L819.70,255.70 L820.57,255.00 L821.43,254.29 L822.30,253.59 L823.16,252.88 L824.03,252.17 L824.89,251.46 L825.76,250.75 L826.62,250.04 L827.49,249.33 L828.36,248.62 L829.22,247.91 L830.09,247.19 L830.09,247.19 L829.22,247.91 L828.36,248.62 L827.49,249.33 L826.62,250.04 L825.76,250.75 L824.89,251.46 L824.03,252.17 L823.16,252.88 L822.30,253.59 L821.43,254.29 L820.57,255.00 L819.70,255.70 L818.83,256.41 L817.97,257.11 L817.10,257.81 L816.24,258.51 L815.37,259.21 L814.51,259.90 L813.64,260.60 L812.77,261.29 L811.91,261.99 L811.04,262.68 L810.18,263.37 L809.31,264.06 L808.45,264.75 L807.58,265.43 L806.71,266.12 L805.85,266.80 L804.98,267.48 L804.12,268.16 L803.25,268.84 L802.39,269.51 L801.52,270.19 L800.66,270.86 L799.79,271.53 L798.92,272.20 L798.06,272.87 L797.19,273.53 L796.33,274.19 L795.46,274.85 L794.60,275.51 L793.73,276.16 L792.86,276.81 L792.00,277.46 L791.13,278.11 L790.27,278.76 L789.40,279.40 L788.54,280.04 L787.67,280.67 L786.80,281.31 L785.94,281.94 L785.07,282.56 L784.21,283.19 L783.34,283.81 L782.48,284.43 L781.61,285.04 L780.75,285.65 L779.88,286.26 L779.01,286.86 L778.15,287.46 L777.28,288.06 L776.42,288.65 L775.55,289.24 L774.69,289.83 L773.82,290.41 L772.95,290.98 L772.09,291.55 L771.22,292.12 L770.36,292.69 L769.49,293.25 L768.63,293.80 L767.76,294.35 L766.89,294.90 L766.03,295.44 L765.16,295.97 L764.30,296.50 L763.43,297.03 L762.57,297.55 L761.70,298.07 L760.84,298.58 L759.97,299.08 L759.10,299.59 L758.24,300.08 L757.37,300.57 L756.51,301.05 L755.64,301.53 L754.78,302.01 L753.91,302.47 L753.04,302.93 L752.18,303.39 L751.31,303.84 L750.45,304.28 L749.58,304.72 L748.72,305.16 L747.85,305.58 L746.98,306.00 L746.12,306.42 L745.25,306.83 L744.39,307.23 L743.52,307.62 L742.66,308.01 L741.79,308.40 L740.93,308.78 L740.06,309.15 L739.19,309.51 L738.33,309.87 L737.46,310.23 L736.60,310.58 L735.73,310.92 L734.87,311.25 L734.00,311.58 L733.13,311.91 L732.27,312.22 L731.40,312.53 L730.54,312.84 L729.67,313.14 L728.81,313.43 L727.94,313.72 L727.07,314.00 L726.21,314.28 L725.34,314.55 L724.48,314.81 L723.61,315.07 L722.75,315.33 L721.88,315.57 L721.02,315.82 L720.15,316.05 L719.28,316.29 L718.42,316.51 L717.55,316.73 L716.69,316.95 L715.82,317.16 L714.96,317.37 L714.09,317.57 L713.22,317.77 L712.36,317.96 L711.49,318.15 L710.63,318.33 L709.76,318.51 L708.90,318.68 L708.03,318.85 L707.17,319.02 L706.30,319.18 L705.43,319.33 L704.57,319.49 L703.70,319.63 L702.84,319.78 L701.97,319.92 L701.11,320.06 L700.24,320.19 L699.37,320.32 L698.51,320.45 L697.64,320.57 L696.78,320.69 L695.91,320.81 L695.05,320.92 L694.18,321.03 L693.31,321.14 L692.45,321.24 L691.58,321.34 L690.72,321.44 L689.85,321.53 L688.99,321.63 L688.12,321.72 L687.26,321.80 L686.39,321.89 L685.52,321.97 L684.66,322.05 L683.79,322.13 L682.93,322.20 L682.06,322.28 L681.20,322.35 L680.33,322.42 L679.46,322.48 L678.60,322.55 L677.73,322.61 L676.87,322.67 L676.00,322.73 L675.14,322.79 L674.27,322.85 L673.40,322.90 L672.54,322.95 L671.67,323.00 L670.81,323.05 L669.94,323.10 L669.08,323.15 L668.21,323.19 L667.35,323.23 L666.48,323.28 L665.61,323.32 L664.75,323.36 L663.88,323.39 L663.02,323.43 L662.15,323.47 L661.29,323.50 L660.42,323.54 L659.55,323.57 L658.69,323.60 L657.82,323.63 L656.96,323.66 L656.09,323.69 L655.23,323.72 L654.36,323.75 L653.49,323.77 L652.63,323.80 L651.76,323.82 L650.90,323.84 L650.03,323.87 L649.17,323.89 L648.30,323.91 L647.44,323.93 L646.57,323.95 L645.70,323.97 L644.84,323.99 L643.97,324.01 L643.11,324.03 L642.24,324.04 L641.38,324.06 L640.51,324.08 L639.64,324.09 L638.78,324.11 L637.91,324.12 L637.05,324.14 L636.18,324.15 L635.32,324.16 L634.45,324.18 L633.58,324.19 L632.72,324.20 L631.85,324.21 L630.99,324.22 L630.12,324.24 L629.26,324.25 L628.39,324.26 L627.53,324.27 L626.66,324.28 L625.79,324.28 L624.93,324.29 L624.06,324.30 L623.20,324.31 L622.33,324.32 L621.47,324.33 L620.60,324.33 L619.73,324.34 L618.87,324.35 L618.00,324.36 L617.14,324.36 L616.27,324.37 L615.41,324.38 L614.54,324.38 L613.67,324.39 L612.81,324.39 L611.94,324.40 L611.08,324.40 L610.21,324.41 L609.35,324.41 L608.48,324.42 L607.62,324.42 L606.75,324.43 L605.88,324.43 L605.02,324.44 L604.15,324.44 L603.29,324.44 L602.42,324.45 L601.56,324.45 L600.69,324.45 L599.82,324.46 L598.96,324.46 L598.09,324.46 L597.23,324.47 L596.36,324.47 L595.50,324.47 L594.63,324.48 L593.76,324.48 L592.90,324.48 L592.03,324.48 L591.17,324.49 L590.30,324.49 L589.44,324.49 L588.57,324.49 L587.71,324.50 L586.84,324.50 L585.97,324.50 L585.11,324.50 L584.24,324.50 L583.38,324.51 L582.51,324.51 L581.65,324.51 L580.78,324.51 L579.91,324.51 L579.05,324.51 L578.18,324.52 L577.32,324.52 L576.45,324.52 L575.59,324.52 L574.72,324.52 L573.86,324.52 L572.99,324.52 L572.12,324.53 L571.26,324.53 L570.39,324.53 L569.53,324.53 L568.66,324.53 L567.80,324.53 L566.93,324.53 L566.06,324.53 L565.20,324.53 L564.33,324.53 L563.47,324.54 L562.60,324.54 L561.74,324.54 L560.87,324.54 L560.00,324.54 L559.14,324.54 L558.27,324.54 L557.41,324.54 L556.54,324.54 L555.68,324.54 L554.81,324.54 L553.95,324.54 L553.08,324.54 L552.21,324.54 L551.35,324.54 L550.48,324.55 L549.62,324.55 L548.75,324.55 L547.89,324.55 L547.02,324.55 L546.15,324.55 L545.29,324.55 L544.42,324.55 L543.56,324.55 L542.69,324.55 L541.83,324.55 L540.96,324.55 L540.09,324.55 L539.23,324.55 L538.36,324.55 L537.50,324.55 L536.63,324.55 L535.77,324.55 L534.90,324.55 L534.04,324.55 L533.17,324.55 L532.30,324.55 L531.44,324.55 L530.57,324.55 L529.71,324.55 L528.84,324.55 L527.98,324.55 L527.11,324.55 L526.24,324.55 L525.38,324.55 L524.51,324.56 L523.65,324.56 L522.78,324.56 L521.92,324.56 L521.05,324.56 L520.18,324.56 L519.32,324.56 L518.45,324.56 L517.59,324.56 L516.72,324.56 L515.86,324.56 L514.99,324.56 L514.13,324.56 L513.26,324.56 L512.39,324.56 L511.53,324.56 L510.66,324.56 L509.80,324.56 L508.93,324.56 L508.07,324.56 L507.20,324.56 L506.33,324.56 L505.47,324.56 L504.60,324.56 L503.74,324.56 L502.87,324.56 L502.01,324.56 L501.14,324.56 L500.27,324.56 L499.41,324.56 L498.54,324.56 L497.68,324.56 L496.81,324.56 L495.95,324.56 L495.08,324.56 L494.22,324.56 L493.35,324.56 L492.48,324.56 L491.62,324.56 L490.75,324.56 L489.89,324.56 L489.02,324.56 L488.16,324.56 L487.29,324.56 L486.42,324.56 L485.56,324.56 L484.69,324.56 L483.83,324.56 L482.96,324.56 L482.10,324.56 L481.23,324.56 L480.36,324.56 L479.50,324.56 L478.63,324.56 L477.77,324.56 L476.90,324.56 L476.04,324.56 L475.17,324.56 L474.31,324.56 L473.44,324.56 L472.57,324.56 L471.71,324.56 L470.84,324.56 L469.98,324.56 L469.11,324.56 L468.25,324.56 L467.38,324.56Z" fill="#ffb2b2"/>
<path d="M467.38,324.56 L468.25,324.56 L469.11,324.56 L469.98,324.56 L470.84,324.56 L471.71,324.56 L472.57,324.56 L473.44,324.56 L474.31,324.56 L475.17,324.56 L476.04,324.56 L476.90,324.56 L477.77,324.56 L478.63,324.56 L479.50,324.56 L480.36,324.56 L481.23,324.56 L482.10,324.56 L482.96,324.56 L483.83,324.56 L484.69,324.56 L485.56,324.56 L486.42,324.56 L487.29,324.56 L488.16,324.56 L489.02,324.56 L489.89,324.56 L490.75,324.56 L491.62,324.56 L492.48,324.56 L493.35,324.56 L494.22,324.56 L495.08,324.56 L495.95,324.56 L496.81,324.56 L497.68,324.56 L498.54,324.56 L499.41,324.56 L500.27,324.56 L501.14,324.56 L502.01,324.56 L502.87,324.56 L503.74,324.56 L504.60,324.56 L505.47,324.56 L506.33,324.56 L507.20,324.56 L508.07,324.56 L508.93,324.56 L509.80,324.56 L510.66,324.56 L511.53,324.56 L512.39,324.56 L513.26,324.56 L514.13,324.56 L514.99,324.56 L515.86,324.56 L516.72,324.56 L517.59,324.56 L518.45,324.56 L519.32,324.56 L520.18,324.56 L521.05,324.56 L521.92,324.56 L522.78,324.56 L523.65,324.56 L524.51,324.56 L525.38,324.55 L526.24,324.55 L527.11,324.55 L527.98,324.55 L528.84,324.55 L529.71,324.55 L530.57,324.55 L531.44,324.55 L532.30,324.55 L533.17,324.55 L534.04,324.55 L534.90,324.55 L535.77,324.55 L536.63,324.55 L537.50,324.55 L538.36,324.55 L539.23,324.55 L540.09,324.55 L540.96,324.55 L541.83,324.55 L542.69,324.55 L543.56,324.55 L544.42,324.55 L545.29,324.55 L546.15,324.55 L547.02,324.55 L547.89,324.55 L548.75,324.55 L549.62,324.55 L550.48,324.55 L551.35,324.54 L552.21,324.54 L553.08,324.54 L553.95,324.54 L554.81,324.54 L555.68,324.54 L556.54,324.54 L557.41,324.54 L558.27,324.54 L559.14,324.54 L560.00,324.54 L560.87,324.54 L561.74,324.54 L562.60,324.54 L563.47,324.54 L564.33,324.53 L565.20,324.53 L566.06,324.53 L566.93,324.53 L567.80,324.53 L568.66,324.53 L569.53,324.53 L570.39,324.53 L571.26,324.53 L572.12,324.53 L572.99,324.52 L573.86,324.52 L574.72,324.52 L575.59,324.52 L576.45,324.52 L577.32,324.52 L578.18,324.52 L579.05,324.51 L579.91,324.51 L580.78,324.51 L581.65,324.51 L582.51,324.51 L583.38,324.51 L584.24,324.50 L585.11,324.50 L585.97,324.50 L586.84,324.50 L587.71,324.50 L588.57,324.49 L589.44,324.49 L590.30,324.49 L591.17,324.49 L592.03,324.48 L592.90,324.48 L593.76,324.48 L594.63,324.48 L595.50,324.47 L596.36,324.47 L597.23,324.47 L598.09,324.46 L598.96,324.46 L599.82,324.46 L600.69,324.45 L601.56,324.45 L602.42,324.45 L603.29,324.44 L604.15,324.44 L605.02,324.44 L605.88,324.43 L606.75,324.43 L607.62,324.42 L608.48,324.42 L609.35,324.41 L610.21,324.41 L611.08,324.40 L611.94,324.40 L612.81,324.39 L613.67,324.39 L614.54,324.38 L615.41,324.38 L616.27,324.37 L617.14,324.36 L618.00,324.36 L618.87,324.35 L619.73,324.34 L620.60,324.33 L621.47,324.33 L622.33,324.32 L623.20,324.31 L624.06,324.30 L624.93,324.29 L625.79,324.28 L626.66,324.28 L627.53,324.27 L628.39,324.26 L629.26,324.25 L630.12,324.24 L630.99,324.22 L631.85,324.21 L632.72,324.20 L633.58,324.19 L634.45,324.18 L635.32,324.16 L636.18,324.15 L637.05,324.14 L637.91,324.12 L638.78,324.11 L639.64,324.09 L640.51,324.08 L641.38,324.06 L642.24,324.04 L643.11,324.03 L643.97,324.01 L644.84,323.99 L645.70,323.97 L646.57,323.95 L647.44,323.93 L648.30,323.91 L649.17,323.89 L650.03,323.87 L650.90,323.84 L651.76,323.82 L652.63,323.80 L653.49,323.77 L654.36,323.75 L655.23,323.72 L656.09,323.69 L656.96,323.66 L657.82,323.63 L658.69,323.60 L659.55,323.57 L660.42,323.54 L661.29,323.50 L662.15,323.47 L663.02,323.43 L663.88,323.39 L664.75,323.36 L665.61,323.32 L666.48,323.28 L667.35,323.23 L668.21,323.19 L669.08,323.15 L669.94,323.10 L670.81,323.05 L671.67,323.00 L672.54,322.95 L673.40,322.90 L674.27,322.85 L675.14,322.79 L676.00,322.73 L676.87,322.67 L677.73,322.61 L678.60,322.55 L679.46,322.48 L680.33,322.42 L681.20,322.35 L682.06,322.28 L682.93,322.20 L683.79,322.13 L684.66,322.05 L685.52,321.97 L686.39,321.89 L687.26,321.80 L688.12,321.72 L688.99,321.63 L689.85,321.53 L690.72,321.44 L691.58,321.34 L692.45,321.24 L693.31,321.14 L694.18,321.03 L695.05,320.92 L695.91,320.81 L696.78,320.69 L697.64,320.57 L698.51,320.45 L699.37,320.32 L700.24,320.19 L701.11,320.06 L701.97,319.92 L702.84,319.78 L703.70,319.63 L704.57,319.49 L705.43,319.33 L706.30,319.18 L707.17,319.02 L708.03,318.85 L708.90,318.68 L709.76,318.51 L710.63,318.33 L711.49,318.15 L712.36,317.96 L713.22,317.77 L714.09,317.57 L714.96,317.37 L715.82,317.16 L716.69,316.95 L717.55,316.73 L718.42,316.51 L719.28,316.29 L720.15,316.05 L721.02,315.82 L721.88,315.57 L722.75,315.33 L723.61,315.07 L724.48,314.81 L725.34,314.55 L726.21,314.28 L727.07,314.00 L727.94,313.72 L728.81,313.43 L729.67,313.14 L730.54,312.84 L731.40,312.53 L732.27,312.22 L733.13,311.91 L734.00,311.58 L734.87,311.25 L735.73,310.92 L736.60,310.58 L737.46,310.23 L738.33,309.87 L739.19,309.51 L740.06,309.15 L740.93,308.78 L741.79,308.40 L742.66,308.01 L743.52,307.62 L744.39,307.23 L745.25,306.83 L746.12,306.42 L746.98,306.00 L747.85,305.58 L748.72,305.16 L749.58,304.72 L750.45,304.28 L751.31,303.84 L752.18,303.39 L753.04,302.93 L753.91,302.47 L754.78,302.01 L755.64,301.53 L756.51,301.05 L757.37,300.57 L758.24,300.08 L759.10,299.59 L759.97,299.08 L760.84,298.58 L761.70,298.07 L762.57,297.55 L763.43,297.03 L764.30,296.50 L765.16,295.97 L766.03,295.44 L766.89,294.90 L767.76,294.35 L768.63,293.80 L769.49,293.25 L770.36,292.69 L771.22,292.12 L772.09,291.55 L772.95,290.98 L773.82,290.41 L774.69,289.83 L775.55,289.24 L776.42,288.65 L777.28,288.06 L778.15,287.46 L779.01,286.86 L779.88,286.26 L780.75,285.65 L781.61,285.04 L782.48,284.43 L783.34,283.81 L784.21,283.19 L785.07,282.56 L785.94,281.94 L786.80,281.31 L787.67,280.67 L788.54,280.04 L789.40,279.40 L790.27,278.76 L791.13,278.11 L792.00,277.46 L792.86,276.81 L793.73,276.16 L794.60,275.51 L795.46,274.85 L796.33,274.19 L797.19,273.53 L798.06,272.87 L798.92,272.20 L799.79,271.53 L800.66,270.86 L801.52,270.19 L802.39,269.51 L803.25,268.84 L804.12,268.16 L804.98,267.48 L805.85,266.80 L806.71,266.12 L807.58,265.43 L808.45,264.75 L809.31,264.06 L810.18,263.37 L811.04,262.68 L811.91,261.99 L812.77,261.29 L813.64,260.60 L814.51,259.90 L815.37,259.21 L816.24,258.51 L817.10,257.81 L817.97,257.11 L818.83,256.41 L819.70,255.70 L820.57,255.00 L821.43,254.29 L822.30,253.59 L823.16,252.88 L824.03,252.17 L824.89,251.46 L825.76,250.75 L826.62,250.04 L827.49,249.33 L828.36,248.62 L829.22,247.91 L830.09,247.19" transform="translate(0,0.3)" stroke="#f00" stroke-width="1.9" stroke-dasharray="3.2 2.85" fill="none"/>
<path d="M468.70,145.88 L476.08,152.15 L483.45,158.43 L490.83,164.70 L498.20,170.98 L505.58,177.25 L512.95,183.53 L520.33,189.80 L527.70,196.08 L535.08,202.35 L542.45,208.63 L549.83,214.90 L557.20,221.18 L564.58,227.46 L571.95,233.73 L579.33,240.01 L586.70,246.28 L594.08,252.56 L601.45,258.83 L608.83,265.11 L616.20,271.38 L623.58,277.66 L630.96,283.93 L638.33,290.21 L645.71,296.48 L653.08,302.76 L660.46,309.03 L667.83,315.31 L675.21,321.59 L682.58,327.86 L689.96,334.14 L697.33,340.41 L704.71,346.69 L712.08,352.96 L719.46,359.24 L726.83,365.51 L734.21,371.79 L741.58,378.06 L748.96,384.34 L756.33,390.61 L763.71,396.89 L771.09,403.17 L778.46,409.44 L785.84,415.72 L793.21,421.99 L800.59,428.27 L807.96,434.54 L815.34,440.82 L822.71,447.09 L830.09,453.37" stroke="#0000ff" stroke-width="2" stroke-dasharray="8.7 2.1" fill="none"/>
<path d="M467.38,-0.43 L468.25,2.75 L469.11,5.93 L469.98,9.11 L470.84,12.29 L471.71,15.46 L472.57,18.63 L473.44,21.80 L474.31,24.96 L475.17,28.12 L476.04,31.28 L476.90,34.44 L477.77,37.59 L478.63,40.74 L479.50,43.88 L480.36,47.03 L481.23,50.17 L482.10,53.31 L482.96,56.44 L483.83,59.57 L484.69,62.70 L485.56,65.83 L486.42,68.95 L487.29,72.07 L488.16,75.19 L489.02,78.30 L489.89,81.41 L490.75,84.52 L491.62,87.63 L492.48,90.73 L493.35,93.83 L494.22,96.93 L495.08,100.02 L495.95,103.11 L496.81,106.20 L497.68,109.28 L498.54,112.37 L499.41,115.44 L500.27,118.52 L501.14,121.59 L502.01,124.66 L502.87,127.73 L503.74,130.80 L504.60,133.86 L505.47,136.92 L506.33,139.97 L507.20,143.02 L508.07,146.07 L508.93,149.12 L509.80,152.16 L510.66,155.20 L511.53,158.24 L512.39,161.27 L513.26,164.30 L514.13,167.33 L514.99,170.35 L515.86,173.38 L516.72,176.39 L517.59,179.41 L518.45,182.42 L519.32,185.42 L520.18,188.43 L521.05,191.43 L521.92,194.42 L522.78,197.41 L523.65,200.40 L524.51,203.38 L525.38,206.36 L526.24,209.34 L527.11,212.30 L527.98,215.27 L528.84,218.22 L529.71,221.17 L530.57,224.12 L531.44,227.06 L532.30,229.99 L533.17,232.91 L534.04,235.82 L534.90,238.72 L535.77,241.61 L536.63,244.49 L537.50,247.36 L538.36,250.21 L539.23,253.04 L540.09,255.86 L540.96,258.66 L541.83,261.43 L542.69,264.19 L543.56,266.91 L544.42,269.61 L545.29,272.27 L546.15,274.90 L547.02,277.49 L547.89,280.03 L548.75,282.53 L549.62,284.98 L550.48,287.37 L551.35,289.70 L552.21,291.97 L553.08,294.16 L553.95,296.29 L554.81,298.33 L555.68,300.30 L556.54,302.17 L557.41,303.96 L558.27,305.66 L559.14,307.26 L560.00,308.77 L560.87,310.18 L561.74,311.50 L562.60,312.73 L563.47,313.87 L564.33,314.92 L565.20,315.88 L566.06,316.76 L566.93,317.57 L567.80,318.30 L568.66,318.96 L569.53,319.56 L570.39,320.10 L571.26,320.59 L572.12,321.03 L572.99,321.42 L573.86,321.76 L574.72,322.08 L575.59,322.35 L576.45,322.60 L577.32,322.82 L578.18,323.01 L579.05,323.19 L579.91,323.34 L580.78,323.47 L581.65,323.59 L582.51,323.70 L583.38,323.79 L584.24,323.87 L585.11,323.94 L585.97,324.01 L586.84,324.06 L587.71,324.11 L588.57,324.15 L589.44,324.19 L590.30,324.22 L591.17,324.25 L592.03,324.28 L592.90,324.30 L593.76,324.32 L594.63,324.33 L595.50,324.35 L596.36,324.36 L597.23,324.37 L598.09,324.38 L598.96,324.39 L599.82,324.39 L600.69,324.40 L601.56,324.40 L602.42,324.40 L603.29,324.40 L604.15,324.40 L605.02,324.40 L605.88,324.40 L606.75,324.40 L607.62,324.40 L608.48,324.40 L609.35,324.40 L610.21,324.39 L611.08,324.39 L611.94,324.39 L612.81,324.38 L613.67,324.38 L614.54,324.37 L615.41,324.37 L616.27,324.36 L617.14,324.36 L618.00,324.35 L618.87,324.34 L619.73,324.34 L620.60,324.33 L621.47,324.32 L622.33,324.32 L623.20,324.31 L624.06,324.30 L624.93,324.29 L625.79,324.28 L626.66,324.27 L627.53,324.26 L628.39,324.25 L629.26,324.24 L630.12,324.23 L630.99,324.22 L631.85,324.21 L632.72,324.20 L633.58,324.19 L634.45,324.18 L635.32,324.16 L636.18,324.15 L637.05,324.14 L637.91,324.12 L638.78,324.11 L639.64,324.09 L640.51,324.08 L641.38,324.06 L642.24,324.04 L643.11,324.03 L643.97,324.01 L644.84,323.99 L645.70,323.97 L646.57,323.95 L647.44,323.93 L648.30,323.91 L649.17,323.89 L650.03,323.87 L650.90,323.84 L651.76,323.82 L652.63,323.80 L653.49,323.77 L654.36,323.74 L655.23,323.72 L656.09,323.69 L656.96,323.66 L657.82,323.63 L658.69,323.60 L659.55,323.57 L660.42,323.54 L661.29,323.50 L662.15,323.47 L663.02,323.43 L663.88,323.39 L664.75,323.36 L665.61,323.32 L666.48,323.28 L667.35,323.23 L668.21,323.19 L669.08,323.15 L669.94,323.10 L670.81,323.05 L671.67,323.00 L672.54,322.95 L673.40,322.90 L674.27,322.85 L675.14,322.79 L676.00,322.73 L676.87,322.67 L677.73,322.61 L678.60,322.55 L679.46,322.48 L680.33,322.42 L681.20,322.35 L682.06,322.28 L682.93,322.20 L683.79,322.13 L684.66,322.05 L685.52,321.97 L686.39,321.89 L687.26,321.80 L688.12,321.72 L688.99,321.63 L689.85,321.53 L690.72,321.44 L691.58,321.34 L692.45,321.24 L693.31,321.14 L694.18,321.03 L695.05,320.92 L695.91,320.81 L696.78,320.69 L697.64,320.57 L698.51,320.45 L699.37,320.32 L700.24,320.19 L701.11,320.06 L701.97,319.92 L702.84,319.78 L703.70,319.63 L704.57,319.49 L705.43,319.33 L706.30,319.18 L707.17,319.02 L708.03,318.85 L708.90,318.68 L709.76,318.51 L710.63,318.33 L711.49,318.15 L712.36,317.96 L713.22,317.77 L714.09,317.57 L714.96,317.37 L715.82,317.16 L716.69,316.95 L717.55,316.73 L718.42,316.51 L719.28,316.29 L720.15,316.05 L721.02,315.82 L721.88,315.57 L722.75,315.33 L723.61,315.07 L724.48,314.81 L725.34,314.55 L726.21,314.28 L727.07,314.00 L727.94,313.72 L728.81,313.43 L729.67,313.14 L730.54,312.84 L731.40,312.53 L732.27,312.22 L733.13,311.91 L734.00,311.58 L734.87,311.25 L735.73,310.92 L736.60,310.58 L737.46,310.23 L738.33,309.87 L739.19,309.51 L740.06,309.15 L740.93,308.78 L741.79,308.40 L742.66,308.01 L743.52,307.62 L744.39,307.23 L745.25,306.83 L746.12,306.42 L746.98,306.00 L747.85,305.58 L748.72,305.16 L749.58,304.72 L750.45,304.28 L751.31,303.84 L752.18,303.39 L753.04,302.93 L753.91,302.47 L754.78,302.01 L755.64,301.53 L756.51,301.05 L757.37,300.57 L758.24,300.08 L759.10,299.59 L759.97,299.08 L760.84,298.58 L761.70,298.07 L762.57,297.55 L763.43,297.03 L764.30,296.50 L765.16,295.97 L766.03,295.44 L766.89,294.90 L767.76,294.35 L768.63,293.80 L769.49,293.25 L770.36,292.69 L771.22,292.12 L772.09,291.55 L772.95,290.98 L773.82,290.41 L774.69,289.83 L775.55,289.24 L776.42,288.65 L777.28,288.06 L778.15,287.46 L779.01,286.86 L779.88,286.26 L780.75,285.65 L781.61,285.04 L782.48,284.43 L783.34,283.81 L784.21,283.19 L785.07,282.56 L785.94,281.94 L786.80,281.31 L787.67,280.67 L788.54,280.04 L789.40,279.40 L790.27,278.76 L791.13,278.11 L792.00,277.46 L792.86,276.81 L793.73,276.16 L794.60,275.51 L795.46,274.85 L796.33,274.19 L797.19,273.53 L798.06,272.87 L798.92,272.20 L799.79,271.53 L800.66,270.86 L801.52,270.19 L802.39,269.51 L803.25,268.84 L804.12,268.16 L804.98,267.48 L805.85,266.80 L806.71,266.12 L807.58,265.43 L808.45,264.75 L809.31,264.06 L810.18,263.37 L811.04,262.68 L811.91,261.99 L812.77,261.29 L813.64,260.60 L814.51,259.90 L815.37,259.21 L816.24,258.51 L817.10,257.81 L817.97,257.11 L818.83,256.41 L819.70,255.70 L820.57,255.00 L821.43,254.29 L822.30,253.59 L823.16,252.88 L824.03,252.17 L824.89,251.46 L825.76,250.75 L826.62,250.04 L827.49,249.33 L828.36,248.62 L829.22,247.91 L830.09,247.19" stroke="#f00" stroke-width="2" fill="none"/>
<path d="M467.38,46.97 L468.25,48.44 L469.11,49.91 L469.98,51.39 L470.84,52.86 L471.71,54.33 L472.57,55.81 L473.44,57.28 L474.31,58.75 L475.17,60.23 L476.04,61.70 L476.90,63.17 L477.77,64.65 L478.63,66.12 L479.50,67.59 L480.36,69.06 L481.23,70.54 L482.10,72.01 L482.96,73.48 L483.83,74.96 L484.69,76.43 L485.56,77.90 L486.42,79.38 L487.29,80.85 L488.16,82.32 L489.02,83.79 L489.89,85.27 L490.75,86.74 L491.62,88.21 L492.48,89.69 L493.35,91.16 L494.22,92.63 L495.08,94.10 L495.95,95.58 L496.81,97.05 L497.68,98.52 L498.54,99.99 L499.41,101.47 L500.27,102.94 L501.14,104.41 L502.01,105.88 L502.87,107.36 L503.74,108.83 L504.60,110.30 L505.47,111.77 L506.33,113.25 L507.20,114.72 L508.07,116.19 L508.93,117.66 L509.80,119.13 L510.66,120.60 L511.53,122.08 L512.39,123.55 L513.26,125.02 L514.13,126.49 L514.99,127.96 L515.86,129.43 L516.72,130.90 L517.59,132.38 L518.45,133.85 L519.32,135.32 L520.18,136.79 L521.05,138.26 L521.92,139.73 L522.78,141.20 L523.65,142.67 L524.51,144.13 L525.38,145.60 L526.24,147.07 L527.11,148.54 L527.98,150.01 L528.84,151.48 L529.71,152.94 L530.57,154.41 L531.44,155.88 L532.30,157.34 L533.17,158.81 L534.04,160.27 L534.90,161.74 L535.77,163.20 L536.63,164.66 L537.50,166.12 L538.36,167.59 L539.23,169.05 L540.09,170.51 L540.96,171.96 L541.83,173.42 L542.69,174.88 L543.56,176.33 L544.42,177.79 L545.29,179.24 L546.15,180.69 L547.02,182.14 L547.89,183.59 L548.75,185.04 L549.62,186.49 L550.48,187.93 L551.35,189.37 L552.21,190.81 L553.08,192.25 L553.95,193.68 L554.81,195.11 L555.68,196.54 L556.54,197.97 L557.41,199.39 L558.27,200.81 L559.14,202.23 L560.00,203.64 L560.87,205.05 L561.74,206.45 L562.60,207.85 L563.47,209.25 L564.33,210.64 L565.20,212.02 L566.06,213.40 L566.93,214.77 L567.80,216.14 L568.66,217.50 L569.53,218.85 L570.39,220.20 L571.26,221.53 L572.12,222.86 L572.99,224.18 L573.86,225.49 L574.72,226.79 L575.59,228.08 L576.45,229.36 L577.32,230.62 L578.18,231.88 L579.05,233.12 L579.91,234.35 L580.78,235.56 L581.65,236.76 L582.51,237.95 L583.38,239.11 L584.24,240.27 L585.11,241.40 L585.97,242.52 L586.84,243.62 L587.71,244.70 L588.57,245.76 L589.44,246.80 L590.30,247.82 L591.17,248.82 L592.03,249.80 L592.90,250.75 L593.76,251.69 L594.63,252.59 L595.50,253.48 L596.36,254.34 L597.23,255.18 L598.09,255.99 L598.96,256.78 L599.82,257.55 L600.69,258.29 L601.56,259.00 L602.42,259.69 L603.29,260.36 L604.15,261.00 L605.02,261.62 L605.88,262.21 L606.75,262.78 L607.62,263.33 L608.48,263.85 L609.35,264.35 L610.21,264.83 L611.08,265.29 L611.94,265.72 L612.81,266.14 L613.67,266.53 L614.54,266.91 L615.41,267.27 L616.27,267.61 L617.14,267.93 L618.00,268.23 L618.87,268.52 L619.73,268.79 L620.60,269.05 L621.47,269.29 L622.33,269.52 L623.20,269.74 L624.06,269.94 L624.93,270.13 L625.79,270.31 L626.66,270.48 L627.53,270.64 L628.39,270.79 L629.26,270.93 L630.12,271.06 L630.99,271.18 L631.85,271.29 L632.72,271.39 L633.58,271.49 L634.45,271.58 L635.32,271.67 L636.18,271.74 L637.05,271.82 L637.91,271.88 L638.78,271.94 L639.64,272.00 L640.51,272.05 L641.38,272.09 L642.24,272.13 L643.11,272.17 L643.97,272.21 L644.84,272.23 L645.70,272.26 L646.57,272.28 L647.44,272.30 L648.30,272.32 L649.17,272.33 L650.03,272.34 L650.90,272.35 L651.76,272.35 L652.63,272.35 L653.49,272.35 L654.36,272.35 L655.23,272.35 L656.09,272.34 L656.96,272.33 L657.82,272.32 L658.69,272.30 L659.55,272.29 L660.42,272.27 L661.29,272.25 L662.15,272.23 L663.02,272.20 L663.88,272.17 L664.75,272.15 L665.61,272.12 L666.48,272.09 L667.35,272.05 L668.21,272.02 L669.08,271.98 L669.94,271.94 L670.81,271.90 L671.67,271.85 L672.54,271.81 L673.40,271.76 L674.27,271.71 L675.14,271.66 L676.00,271.61 L676.87,271.55 L677.73,271.50 L678.60,271.44 L679.46,271.38 L680.33,271.31 L681.20,271.25 L682.06,271.18 L682.93,271.11 L683.79,271.03 L684.66,270.96 L685.52,270.88 L686.39,270.80 L687.26,270.72 L688.12,270.63 L688.99,270.54 L689.85,270.45 L690.72,270.36 L691.58,270.26 L692.45,270.16 L693.31,270.06 L694.18,269.95 L695.05,269.84 L695.91,269.73 L696.78,269.61 L697.64,269.49 L698.51,269.37 L699.37,269.25 L700.24,269.12 L701.11,268.98 L701.97,268.85 L702.84,268.71 L703.70,268.56 L704.57,268.41 L705.43,268.26 L706.30,268.11 L707.17,267.95 L708.03,267.78 L708.90,267.61 L709.76,267.44 L710.63,267.26 L711.49,267.08 L712.36,266.89 L713.22,266.70 L714.09,266.50 L714.96,266.30 L715.82,266.09 L716.69,265.88 L717.55,265.67 L718.42,265.45 L719.28,265.22 L720.15,264.99 L721.02,264.75 L721.88,264.51 L722.75,264.26 L723.61,264.01 L724.48,263.75 L725.34,263.48 L726.21,263.21 L727.07,262.93 L727.94,262.65 L728.81,262.37 L729.67,262.07 L730.54,261.77 L731.40,261.47 L732.27,261.16 L733.13,260.84 L734.00,260.52 L734.87,260.19 L735.73,259.85 L736.60,259.51 L737.46,259.16 L738.33,258.81 L739.19,258.45 L740.06,258.08 L740.93,257.71 L741.79,257.33 L742.66,256.95 L743.52,256.56 L744.39,256.16 L745.25,255.76 L746.12,255.35 L746.98,254.94 L747.85,254.52 L748.72,254.09 L749.58,253.66 L750.45,253.22 L751.31,252.77 L752.18,252.32 L753.04,251.87 L753.91,251.41 L754.78,250.94 L755.64,250.47 L756.51,249.99 L757.37,249.50 L758.24,249.01 L759.10,248.52 L759.97,248.02 L760.84,247.51 L761.70,247.00 L762.57,246.49 L763.43,245.96 L764.30,245.44 L765.16,244.91 L766.03,244.37 L766.89,243.83 L767.76,243.28 L768.63,242.73 L769.49,242.18 L770.36,241.62 L771.22,241.06 L772.09,240.49 L772.95,239.92 L773.82,239.34 L774.69,238.76 L775.55,238.17 L776.42,237.59 L777.28,236.99 L778.15,236.40 L779.01,235.80 L779.88,235.19 L780.75,234.59 L781.61,233.97 L782.48,233.36 L783.34,232.74 L784.21,232.12 L785.07,231.50 L785.94,230.87 L786.80,230.24 L787.67,229.61 L788.54,228.97 L789.40,228.33 L790.27,227.69 L791.13,227.05 L792.00,226.40 L792.86,225.75 L793.73,225.10 L794.60,224.44 L795.46,223.78 L796.33,223.12 L797.19,222.46 L798.06,221.80 L798.92,221.13 L799.79,220.47 L800.66,219.79 L801.52,219.12 L802.39,218.45 L803.25,217.77 L804.12,217.10 L804.98,216.42 L805.85,215.73 L806.71,215.05 L807.58,214.37 L808.45,213.68 L809.31,212.99 L810.18,212.30 L811.04,211.61 L811.91,210.92 L812.77,210.23 L813.64,209.53 L814.51,208.84 L815.37,208.14 L816.24,207.44 L817.10,206.74 L817.97,206.04 L818.83,205.34 L819.70,204.64 L820.57,203.93 L821.43,203.23 L822.30,202.52 L823.16,201.81 L824.03,201.11 L824.89,200.40 L825.76,199.69 L826.62,198.98 L827.49,198.27 L828.36,197.55 L829.22,196.84 L830.09,196.13" stroke="#000" stroke-width="2.1" fill="none"/>
</g>
<g stroke="#707070" stroke-width="1" fill="none">
<rect x="83.5" y="9.3" width="360.80" height="359.80"/>
<line x1="131.36" y1="369.10" x2="131.36" y2="363.90"/><line x1="251.63" y1="369.10" x2="251.63" y2="363.90"/><line x1="371.89" y1="369.10" x2="371.89" y2="363.90"/><line x1="83.50" y1="111.43" x2="88.70" y2="111.43"/><line x1="83.50" y1="213.56" x2="88.70" y2="213.56"/><line x1="83.50" y1="315.70" x2="88.70" y2="315.70"/>
<rect x="468.7" y="9.05" width="360.10" height="359.80"/>
<line x1="516.47" y1="369.10" x2="516.47" y2="363.90"/><line x1="636.50" y1="369.10" x2="636.50" y2="363.90"/><line x1="756.53" y1="369.10" x2="756.53" y2="363.90"/><line x1="468.70" y1="111.43" x2="473.90" y2="111.43"/><line x1="468.70" y1="213.56" x2="473.90" y2="213.56"/><line x1="468.70" y1="315.70" x2="473.90" y2="315.70"/>
</g>
<g font-size="22.5" fill="#000">
<text x="119.11" y="396.20" textLength="23.4" lengthAdjust="spacingAndGlyphs">10</text><text x="235.93" y="396.20" textLength="23.4" lengthAdjust="spacingAndGlyphs">10</text><text x="259.33" y="386.60" font-size="15" textLength="7.80" lengthAdjust="spacingAndGlyphs">2</text><text x="356.19" y="396.20" textLength="23.4" lengthAdjust="spacingAndGlyphs">10</text><text x="379.59" y="386.60" font-size="15" textLength="7.80" lengthAdjust="spacingAndGlyphs">3</text>
<text x="504.22" y="396.20" textLength="23.4" lengthAdjust="spacingAndGlyphs">10</text><text x="621.25" y="396.20" textLength="23.4" lengthAdjust="spacingAndGlyphs">10</text><text x="644.65" y="386.60" font-size="15" textLength="7.80" lengthAdjust="spacingAndGlyphs">2</text><text x="741.28" y="396.20" textLength="23.4" lengthAdjust="spacingAndGlyphs">10</text><text x="764.68" y="386.60" font-size="15" textLength="7.80" lengthAdjust="spacingAndGlyphs">3</text>
<text x="26.30" y="20.40" textLength="23.4" lengthAdjust="spacingAndGlyphs">10</text><rect x="50.30" y="6.30" width="10.60" height="1" /><text x="63.45" y="10.50" font-size="15" textLength="15.55" lengthAdjust="spacingAndGlyphs">21</text><text x="25.50" y="118.10" textLength="23.4" lengthAdjust="spacingAndGlyphs">10</text><rect x="49.80" y="104.00" width="10.10" height="1" /><text x="62.80" y="108.20" font-size="15" textLength="16.05" lengthAdjust="spacingAndGlyphs">22</text><text x="24.50" y="223.50" textLength="23.4" lengthAdjust="spacingAndGlyphs">10</text><rect x="48.40" y="209.40" width="10.50" height="1" /><text x="61.50" y="213.60" font-size="15" textLength="16.90" lengthAdjust="spacingAndGlyphs">23</text><text x="25.30" y="323.85" textLength="23.4" lengthAdjust="spacingAndGlyphs">10</text><rect x="49.80" y="309.75" width="10.10" height="1" /><text x="62.50" y="313.95" font-size="15" textLength="16.50" lengthAdjust="spacingAndGlyphs">24</text>
</g>
<g font-size="23.3" fill="#000">
<text x="182.6" y="417.4" font-size="23.4">Frequency [Hz]</text>
<text x="567.3" y="417.4" font-size="23.4">Frequency [Hz]</text>
<text x="162.5" y="33.1" font-style="italic">effect of optical loss</text>
<text x="520.3" y="33.1" font-style="italic">effect of parameter variation</text>
</g>
<g transform="rotate(-90)" fill="#000">
<text x="-258" y="18.2" font-size="23.3" textLength="55" lengthAdjust="spacingAndGlyphs">Strain</text>
<path d="M-190.2,2.7 H-194 V22.3 H-190.2" fill="none" stroke="#000" stroke-width="1.3"/>
<text x="-187" y="22" font-size="24.5" textLength="15" lengthAdjust="spacingAndGlyphs">H</text>
<text x="-171" y="22" font-size="24.5" textLength="9.3" lengthAdjust="spacingAndGlyphs">z</text>
<rect x="-159.2" y="7.55" width="10.1" height="1"/>
<text x="-147.2" y="11.85" font-size="14" textLength="7" lengthAdjust="spacingAndGlyphs">1</text>
<path d="M-137.6,15.8 L-129.8,0.8" stroke="#000" stroke-width="1" fill="none"/>
<text x="-129.2" y="11.85" font-size="14" textLength="8" lengthAdjust="spacingAndGlyphs">2</text>
<path d="M-118.3,2.7 H-114.2 V22.3 H-118.3" fill="none" stroke="#000" stroke-width="1.3"/>
</g>
<g font-size="23.5" fill="#f00">
<text x="118.7" y="341.7">frequency-dependent readout +</text>
<text x="107.2" y="362.2">frequency-independent squeezing</text>
</g>
<text transform="translate(104.8,192.2) rotate(39)" text-anchor="middle" font-size="24.2" font-style="italic" fill="#0000ff" stroke="#0000ff" stroke-width="0.25">SQL</text>
</svg>
</body></html>
